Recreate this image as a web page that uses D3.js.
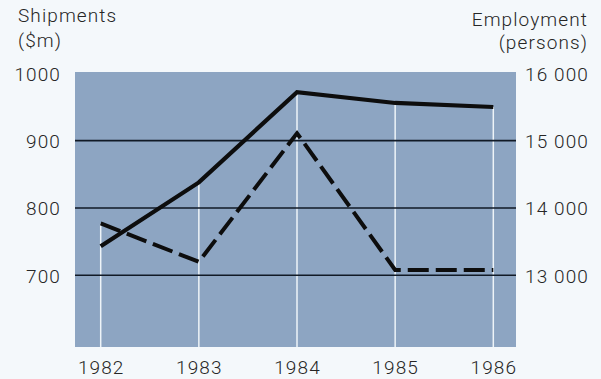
<!DOCTYPE html>
<html>
<head>
<meta charset="utf-8">
<script src="https://cdn.jsdelivr.net/npm/d3@7"></script>
<style>
  html, body { margin: 0; padding: 0; background: #f4f8fb; }
  svg { display: block; }
  text { font-family: Roboto, "Liberation Sans", Arial, sans-serif; font-weight: 300; fill: #262626; font-size: 19px; letter-spacing: 1.1px; }
</style>
</head>
<body>
<svg id="chart" width="601" height="379"></svg>
<script>
const years = [1982, 1983, 1984, 1985, 1986];
const shipments = [743, 838, 972, 956, 950];          // $m, solid line (left axis)
const employment = [13770, 13200, 15110, 13080, 13080]; // persons, dashed line (right axis)
const leftTicks = [700, 800, 900, 1000];
const rightTicks = [13000, 14000, 15000, 16000];

const svg = d3.select("#chart");
const plot = { left: 75, right: 516, top: 72, bottom: 347 };

const x = d3.scaleLinear().domain([1982, 1986]).range([100.7, 493.3]);
const yL = d3.scaleLinear().domain([593.5, 1002]).range([plot.bottom, plot.top]);
const yR = d3.scaleLinear().domain([11935, 16020]).range([plot.bottom, plot.top]);

// plot background
svg.append("rect")
  .attr("x", plot.left).attr("y", plot.top)
  .attr("width", plot.right - plot.left).attr("height", plot.bottom - plot.top)
  .attr("fill", "#8da5c2");

// white drop lines from the highest point at each year
svg.append("g").selectAll("line").data(years).join("line")
  .attr("x1", d => x(d)).attr("x2", d => x(d))
  .attr("y1", (d, i) => Math.min(yL(shipments[i]), yR(employment[i])))
  .attr("y2", plot.bottom)
  .attr("stroke", "#eef4f8").attr("stroke-width", 1.5);

// horizontal gridlines
svg.append("g").selectAll("line").data(leftTicks.filter(v => v < 1000)).join("line")
  .attr("x1", plot.left).attr("x2", plot.right)
  .attr("y1", d => yL(d)).attr("y2", d => yL(d))
  .attr("stroke", "#111a26").attr("stroke-width", 1.6);

// left axis
const axL = svg.append("g").attr("transform", `translate(${plot.left},0)`)
  .call(d3.axisLeft(yL).tickValues(leftTicks).tickSize(0).tickPadding(14).tickFormat(d3.format("d")));
axL.select(".domain").remove();
axL.selectAll("text").attr("font-size", null).attr("font-family", null).attr("fill", null).attr("dy", "0.36em");

// right axis
const axR = svg.append("g").attr("transform", `translate(${plot.right},0)`)
  .call(d3.axisRight(yR).tickValues(rightTicks).tickSize(0).tickPadding(9)
    .tickFormat(v => d3.format(",")(v).replace(",", " ")));
axR.select(".domain").remove();
axR.selectAll("text").attr("font-size", null).attr("font-family", null).attr("fill", null).attr("dy", "0.36em");

// bottom axis
const axB = svg.append("g").attr("transform", `translate(0,${plot.bottom})`)
  .call(d3.axisBottom(x).tickValues(years).tickSize(0).tickPadding(14).tickFormat(d3.format("d")));
axB.select(".domain").remove();
axB.selectAll("text").attr("font-size", null).attr("font-family", null).attr("fill", null).attr("dy", "0.71em");

// lines
const lineShip = d3.line().x((d, i) => x(years[i])).y(d => yL(d));
const lineEmp = d3.line().x((d, i) => x(years[i])).y(d => yR(d));

svg.append("path").datum(employment).attr("d", lineEmp)
  .attr("fill", "none").attr("stroke", "#0d0d0d").attr("stroke-width", 4)
  .attr("stroke-dasharray", "21,7").attr("stroke-linejoin", "miter");

svg.append("path").datum(shipments).attr("d", lineShip)
  .attr("fill", "none").attr("stroke", "#0d0d0d").attr("stroke-width", 4.2)
  .attr("stroke-linejoin", "miter");

// axis titles
svg.append("text").attr("x", 18).attr("y", 22).text("Shipments");
svg.append("text").attr("x", 18).attr("y", 47).text("($m)");
svg.append("text").attr("x", 588).attr("y", 26).attr("text-anchor", "end").text("Employment");
svg.append("text").attr("x", 588).attr("y", 49).attr("text-anchor", "end").text("(persons)");
</script>
</body>
</html>
